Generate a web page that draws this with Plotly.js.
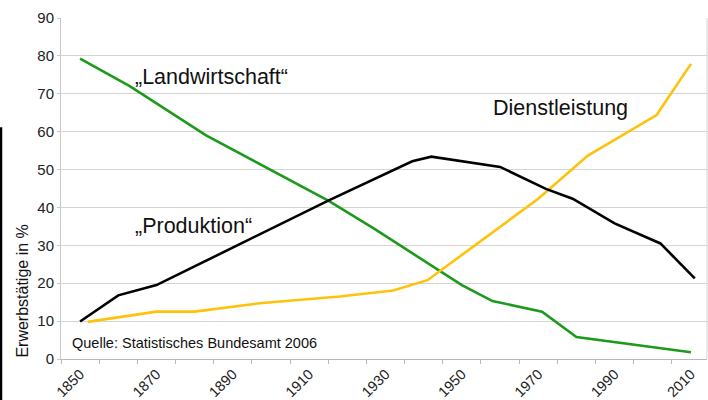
<!DOCTYPE html>
<html>
<head>
<meta charset="utf-8">
<script src="https://cdn.plot.ly/plotly-3.0.1.min.js"></script>
<style>html,body{margin:0;padding:0;background:#fff;}#chart{width:708px;height:400px;}</style>
</head>
<body>
<div id="chart"></div>
<script>
// Landwirtschaft (green)
const agrYears = [1850, 1863, 1883, 1915, 1927, 1950, 1958, 1971, 1980, 2000, 2010];
const agrValues = [79.3, 72.0, 59.0, 41.8, 34.4, 19.5, 15.3, 12.5, 5.8, 3.0, 1.8];
// Produktion (black)
const prodYears = [1850, 1860, 1870, 1915, 1937, 1942, 1960, 1972, 1979, 1990, 2002, 2011];
const prodValues = [9.9, 16.8, 19.5, 41.8, 52.2, 53.4, 50.7, 44.9, 42.3, 35.8, 30.5, 21.3];
// Dienstleistung (yellow)
const servYears = [1852, 1870, 1880, 1897, 1918, 1932, 1941, 1970, 1983, 2001, 2010];
const servValues = [9.8, 12.5, 12.5, 14.7, 16.5, 18.1, 20.8, 42.3, 53.7, 64.4, 77.9];

const labelYears = [1850, 1870, 1890, 1910, 1930, 1950, 1970, 1990, 2010];
const yTicks = [0, 10, 20, 30, 40, 50, 60, 70, 80, 90];

const font = 'Liberation Sans, Arial, sans-serif';
const line = (x, y, color) => ({x, y, type: 'scatter', mode: 'lines',
  line: {color, width: 2.6}, hoverinfo: 'skip', showlegend: false});

const data = [
  line(agrYears, agrValues, '#1c9a1c'),
  line(servYears, servValues, '#ffc20a'),
  line(prodYears, prodValues, '#000000')
];

const layout = {
  width: 708, height: 400,
  margin: {l: 61, r: 1, t: 18, b: 41},
  paper_bgcolor: '#fff', plot_bgcolor: '#fff',
  font: {family: font, color: '#222', size: 14.5},
  showlegend: false,
  xaxis: {
    range: [1845, 2014.2], tickvals: labelYears, ticktext: labelYears.map(String),
    tickangle: -45, ticks: '', showgrid: false, zeroline: false,
    showline: true, linecolor: '#b8b8b8', linewidth: 1, mirror: false,
    tickfont: {size: 14.5, color: '#222'},
    minor: {tick0: 1845, dtick: 10, ticks: 'outside', ticklen: 4, tickcolor: '#b8b8b8', showgrid: false}
  },
  yaxis: {
    range: [0, 90], tickvals: yTicks, ticks: 'outside', ticklen: 3, tickcolor: '#c8c8c8',
    showgrid: true, gridcolor: '#d4d4d4', gridwidth: 1, zeroline: false,
    showline: true, linecolor: '#c8c8c8', linewidth: 1,
    tickfont: {size: 15, color: '#222'}
  },
  shapes: [
    {type: 'line', xref: 'paper', yref: 'paper', x0: 1, x1: 1, y0: 0, y1: 1,
     line: {color: '#d4d4d4', width: 1}},
    {type: 'line', xref: 'paper', yref: 'paper', x0: -60/646, x1: -60/646, y0: -41/341.5, y1: 232/341.5,
     line: {color: '#000', width: 2.5}}
  ],
  annotations: [
    {text: '\u201ELandwirtschaft\u201C', x: 1863.8, y: 74.4, xref: 'x', yref: 'y',
     xanchor: 'left', yanchor: 'middle', showarrow: false, font: {size: 21.5, color: '#111'}},
    {text: 'Dienstleistung', x: 1957.7, y: 66.3, xref: 'x', yref: 'y',
     xanchor: 'left', yanchor: 'middle', showarrow: false, font: {size: 21.5, color: '#111'}},
    {text: '\u201EProduktion\u201C', x: 1863.9, y: 35.2, xref: 'x', yref: 'y',
     xanchor: 'left', yanchor: 'middle', showarrow: false, font: {size: 21.5, color: '#111'}},
    {text: 'Quelle: Statistisches Bundesamt 2006', x: 1847.3, y: 4.2, xref: 'x', yref: 'y',
     xanchor: 'left', yanchor: 'middle', showarrow: false, font: {size: 14.5, color: '#111'}},
    {text: 'Erwerbstätige in %', xref: 'paper', yref: 'paper', x: -38/646, y: (359.5-292)/341.5,
     xanchor: 'center', yanchor: 'middle', textangle: -90, showarrow: false,
     font: {size: 16, color: '#111'}}
  ]
};

Plotly.newPlot('chart', data, layout, {displayModeBar: false, staticPlot: true});
</script>
</body>
</html>
